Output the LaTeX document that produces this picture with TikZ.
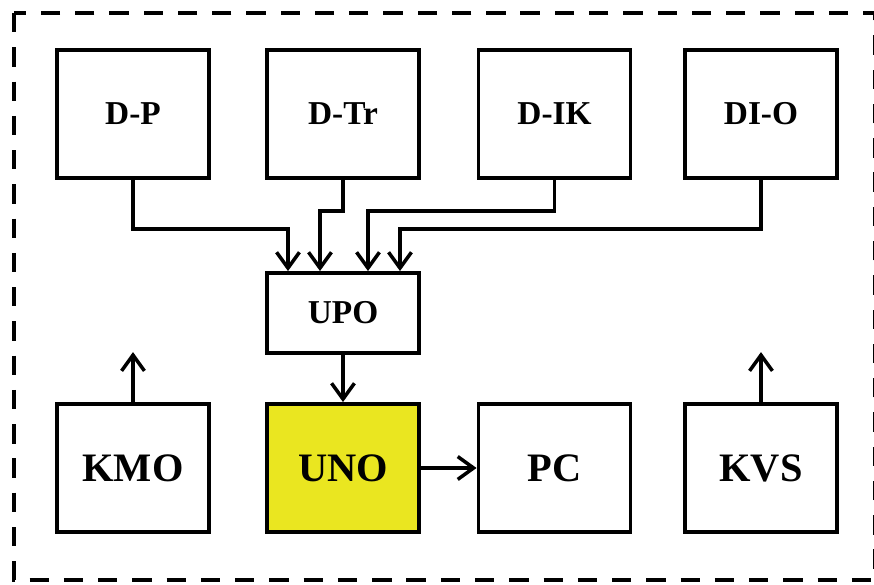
\documentclass[tikz,border=0pt]{standalone}
\usepackage{fontspec}
\setmainfont{Liberation Serif}
\usetikzlibrary{arrows.meta}
\definecolor{unoyellow}{RGB}{234,230,32}
\begin{document}
\begin{tikzpicture}[line width=2.2pt,
    >={Straight Barb[length=9pt,width=13pt,line width=2pt]},
    block/.style={draw, rectangle, minimum width=3.04cm, minimum height=2.56cm, inner sep=0pt, font=\fontsize{19}{19}\selectfont\bfseries},
    bigblock/.style={block, font=\fontsize{23}{23}\selectfont\bfseries},
    midblock/.style={block, minimum height=1.6cm}]
    \useasboundingbox (0,0) rectangle (17.48,-11.7);
    \draw[dashed, dash pattern=on 11pt off 8.5pt, line width=1.8pt] (0.28,-0.26) rectangle (17.5,-11.6);

    % upper row
    \node[block] (dp) at (2.66,-2.28) {D-P};
    \node[block] (dtr) at (6.86,-2.28) {D-Tr};
    \node[block] (dik) at (11.09,-2.28) {D-IK};
    \node[block] (dio) at (15.22,-2.28) {DI-O};

    \node[midblock] (upo) at (6.86,-6.26) {UPO};

    % lower row
    \node[bigblock] (kmo) at (2.66,-9.36) {KMO};
    \node[bigblock, fill=unoyellow] (uno) at (6.86,-9.36) {UNO};
    \node[bigblock] (pc) at (11.09,-9.36) {PC};
    \node[bigblock] (kvs) at (15.22,-9.36) {KVS};

    \draw[->] (dp.south) -- ++(0,-0.98) -| ([xshift=-1.1cm]upo.north);
    \draw[->] (dtr.south) -- ++(0,-0.62) -| ([xshift=-0.46cm]upo.north);
    \draw[->] (dik.south) -- ++(0,-0.62) -| ([xshift=0.5cm]upo.north);
    \draw[->] (dio.south) -- ++(0,-0.98) -| ([xshift=1.14cm]upo.north);
    \draw[->] (upo.south) -- (uno.north);
    \draw[->] (uno.east) -- (pc.west);
    \draw[->] (kmo.north) -- ++(0,1.0);
    \draw[->] (kvs.north) -- ++(0,1.0);
\end{tikzpicture}
\end{document}
